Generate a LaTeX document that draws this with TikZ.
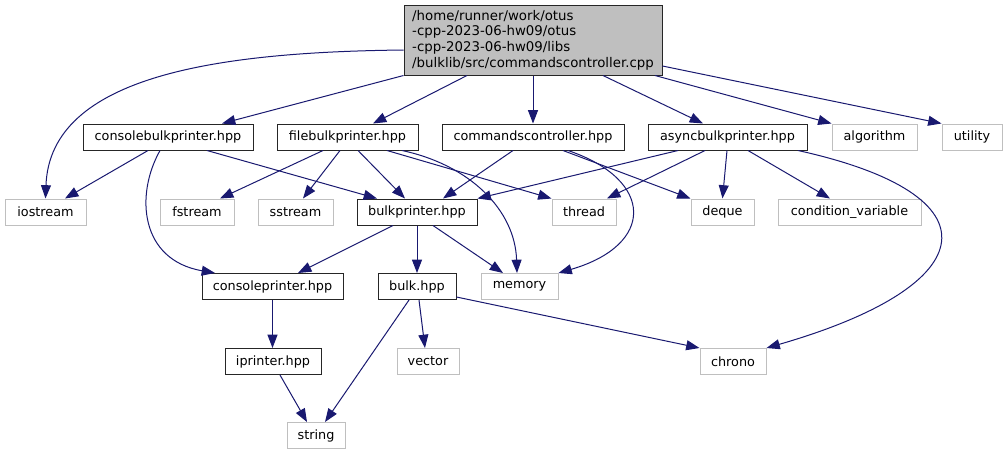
\documentclass[tikz,border=0pt]{standalone}
\usepackage{fontspec}
\setmainfont{DejaVu Sans}
\usetikzlibrary{arrows.meta,calc}
\definecolor{edgec}{HTML}{191970}
\definecolor{greyb}{HTML}{BFBFBF}
\definecolor{boxfill}{HTML}{BFBFBF}
\begin{document}
\begin{tikzpicture}[x=0.75pt,y=-0.75pt,
  lbl/.style={font=\fontsize{9.6}{11.7}\selectfont, inner sep=0pt, minimum height=19.5pt},
  hdr/.style={lbl, draw=black!85, line width=0.75pt},
  sys/.style={lbl, draw=greyb, line width=0.75pt},
  dep/.style={draw=edgec, line width=0.75pt, -{Triangle[length=10pt,width=7.5pt]}}]
\useasboundingbox (0,0) rectangle (1007,455);

% nodes
\node[hdr, fill=boxfill, minimum width=193.5pt, minimum height=52.5pt, align=left,
  font=\fontsize{10}{11.7}\selectfont] (main) at (533,40)
  {/home/runner/work/otus\\-cpp-2023-06-hw09/otus\\-cpp-2023-06-hw09/libs\\/bulklib/src/commandscontroller.cpp};

\node[hdr, minimum width=127.5pt] (cbp) at (168,137) {consolebulkprinter.hpp};
\node[hdr, minimum width=105.75pt] (fbp) at (347.5,137) {filebulkprinter.hpp};
\node[hdr, minimum width=136.5pt] (cch) at (533,137) {commandscontroller.hpp};
\node[hdr, minimum width=119.25pt] (abp) at (727.5,137) {asyncbulkprinter.hpp};
\node[sys, minimum width=63.75pt] (alg) at (874.5,137) {algorithm};
\node[sys, minimum width=45pt] (util) at (972,137) {utility};

\node[sys, minimum width=60.75pt] (ios) at (45.5,212) {iostream};
\node[sys, minimum width=55.5pt] (fst) at (197,212) {fstream};
\node[sys, minimum width=56.25pt] (sst) at (295.5,212) {sstream};
\node[hdr, minimum width=90pt] (bp) at (417,212) {bulkprinter.hpp};
\node[sys, minimum width=48pt] (thr) at (584,212) {thread};
\node[sys, minimum width=47.25pt] (deq) at (722.5,212) {deque};
\node[sys, minimum width=107.25pt] (cv) at (849.5,212) {condition\_variable};

\node[hdr, minimum width=105.75pt] (cp) at (272.5,286.5) {consoleprinter.hpp};
\node[hdr, minimum width=58.5pt] (bulk) at (417,286.5) {bulk.hpp};
\node[sys, minimum width=57.75pt] (mem) at (519.5,286.5) {memory};

\node[hdr, minimum width=72pt] (ipr) at (273,361.5) {iprinter.hpp};
\node[sys, minimum width=46.5pt] (vec) at (428,361.5) {vector};
\node[sys, minimum width=49.5pt] (chr) at (733,361.5) {chrono};

\node[sys, minimum width=43.5pt] (str) at (316,435.5) {string};

% edges from main
\draw[dep] ($(main.west)+(0,10)$) .. controls (220,52) and (50,75) .. (ios.north);
\draw[dep] (main.south west) -- ($(cbp.north)+(54,0)$);
\draw[dep] ($(main.south)+(-66,0)$) -- ($(fbp.north)+(25.5,0)$);
\draw[dep] (main.south) -- (cch.north);
\draw[dep] ($(main.south)+(70,0)$) -- ($(abp.north)+(-24.5,0)$);
\draw[dep] ($(main.south)+(122,0)$) -- (alg.north west);
\draw[dep] ($(main.east)+(0,26)$) -- (util.north west);

% consolebulkprinter
\draw[dep] ($(cbp.south)+(-20,0)$) -- ($(ios.north)+(19.5,0)$);
\draw[dep] ($(cbp.south)+(-8,0)$) .. controls (135,195) and (140,260) .. ($(cp.north)+(-57.5,0)$);
\draw[dep] ($(cbp.south)+(39,0)$) -- ($(bp.north)+(-40,0)$);

% filebulkprinter
\draw[dep] ($(fbp.south)+(-24.5,0)$) -- ($(fst.north)+(23,0)$);
\draw[dep] ($(fbp.south)+(-7.5,0)$) -- ($(sst.north)+(7.5,0)$);
\draw[dep] ($(fbp.south)+(10.5,0)$) -- ($(bp.north)+(-12,0)$);
\draw[dep] ($(fbp.south)+(39.5,0)$) -- (thr.north west);
\draw[dep] ($(fbp.south)+(54.5,0)$) .. controls (470,165) and (515,210) .. ($(mem.north)+(-2.5,0)$);

% commandscontroller
\draw[dep] ($(cch.south)+(-20,0)$) -- ($(bp.north)+(26,0)$);
\draw[dep] ($(cch.south)+(30,0)$) -- (deq.north west);
\draw[dep] ($(cch.south)+(35,0)$) .. controls (655,180) and (655,245) .. (mem.north east);

% asyncbulkprinter
\draw[dep] ($(abp.south)+(-49.5,0)$) -- (bp.north east);
\draw[dep] ($(abp.south)+(-22.5,0)$) -- ($(thr.north)+(23,0)$);
\draw[dep] ($(abp.south)+(-0.5,0)$) -- (deq.north);
\draw[dep] ($(abp.south)+(20.5,0)$) -- ($(cv.north)+(-19.5,0)$);
\draw[dep] ($(abp.south)+(70.5,0)$) .. controls (1000,195) and (985,285) .. (chr.north east);

% bulkprinter
\draw[dep] ($(bp.south)+(-24,0)$) -- ($(cp.north)+(25.5,0)$);
\draw[dep] (bp.south) -- (bulk.north);
\draw[dep] ($(bp.south)+(16,0)$) -- ($(mem.north)+(-16.5,0)$);

% lower
\draw[dep] (cp.south) -- (cp.south |- ipr.north);
\draw[dep] ($(bulk.south)+(-8,0)$) -- ($(str.north)+(9,0)$);
\draw[dep] ($(bulk.south)+(2,0)$) -- ($(vec.north)+(-3,0)$);
\draw[dep] ($(bulk.east)+(0,10.5)$) -- (chr.north west);
\draw[dep] ($(ipr.south)+(7,0)$) -- ($(str.north)+(-9,0)$);
\end{tikzpicture}
\end{document}
